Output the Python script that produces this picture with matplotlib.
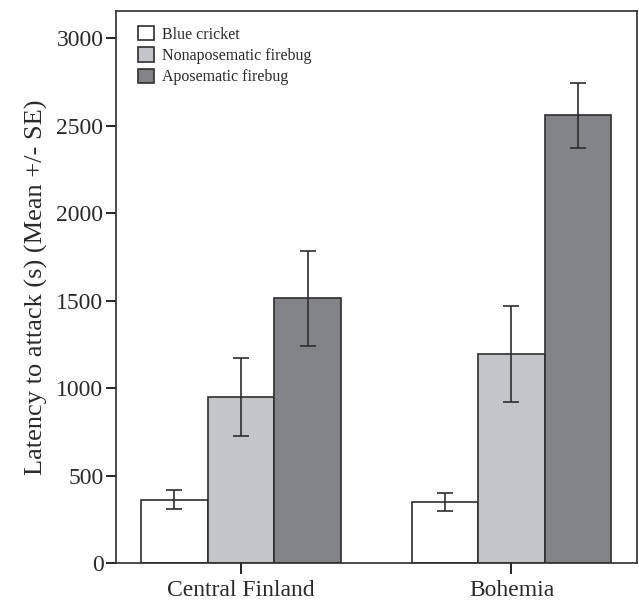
import numpy as np
import matplotlib.pyplot as plt

regions = ["Central Finland", "Bohemia"]
prey = ["Blue cricket", "Nonaposematic firebug", "Aposematic firebug"]
means = [[365, 352], [950, 1196], [1515, 2560]]
se = [[55, 51], [222, 274], [271, 187]]
colors = ["white", "#c4c5c9", "#838488"]

plt.rcParams['font.family'] = ['Liberation Serif', 'DejaVu Serif']
plt.rcParams['text.color'] = "#2a2a2a"
plt.rcParams['xtick.labelcolor'] = "#2a2a2a"
plt.rcParams['ytick.labelcolor'] = "#2a2a2a"
plt.rcParams['axes.labelcolor'] = "#2a2a2a"

fig = plt.figure(figsize=(6.39, 6.05), dpi=100)
ax = fig.add_axes([0.1815, 0.0686, 0.8154, 0.9132])

x = np.arange(len(regions))
w = 0.246
for i in range(len(prey)):
    ax.bar(x + (i - 1) * w, means[i], w, color=colors[i], edgecolor="#2e2e2e",
           linewidth=1.2, label=prey[i], zorder=2)
    ax.errorbar(x + (i - 1) * w, means[i], yerr=se[i], fmt="none", ecolor="#2e2e2e",
                elinewidth=1.2, capsize=6, capthick=1.2, zorder=3)

ax.set_xlim(-0.462, 1.464)
ax.set_ylim(0, 3156)
ax.set_xticks(x)
ax.set_xticklabels(regions, fontsize=17)
ax.set_yticks(np.arange(0, 3001, 500))
ax.tick_params(axis="y", labelsize=17, length=7, width=1.2, direction="out", pad=2)
ax.tick_params(axis="x", length=8, width=1.2, direction="out", pad=4)
for s in ax.spines.values():
    s.set_linewidth(1.2)
    s.set_color("#2e2e2e")
ax.set_ylabel("Latency to attack (s) (Mean +/- SE)", fontsize=19, labelpad=6)

ax.legend(loc="upper left", bbox_to_anchor=(0.014, 0.999), frameon=False, fontsize=11.5,
          handlelength=1.05, handleheight=1.0, labelspacing=0.3, handletextpad=0.5)

fig.savefig("out.png", dpi=100)
